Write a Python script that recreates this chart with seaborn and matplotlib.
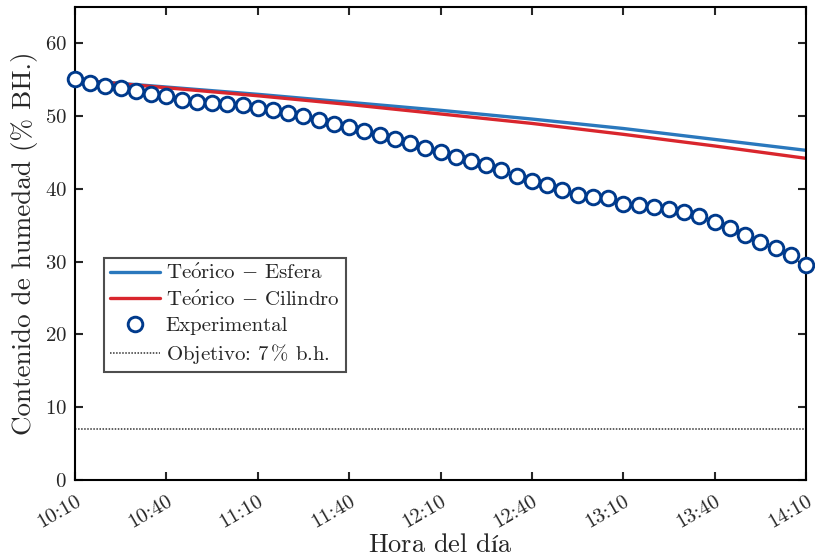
import matplotlib
import matplotlib.pyplot as plt
import seaborn as sns
import pandas as pd

matplotlib.use('Agg')

# minutos desde las 10:10, cada 5 min
t_exp = list(range(0, 241, 5))
h_exp = [55.1, 54.6, 54.2, 53.9, 53.5, 53.1, 52.7, 52.2, 51.9, 51.8,
         51.7, 51.5, 51.1, 50.9, 50.4, 50.0, 49.5, 48.9, 48.5, 47.9,
         47.4, 46.8, 46.3, 45.6, 45.1, 44.4, 43.8, 43.3, 42.6, 41.8,
         41.1, 40.5, 39.8, 39.1, 38.9, 38.8, 37.9, 37.8, 37.5, 37.2,
         36.8, 36.3, 35.4, 34.6, 33.7, 32.7, 31.9, 30.9, 29.5]

t_teo = [0, 30, 60, 90, 120, 150, 180, 210, 240]
h_esfera = [55.0, 54.0, 53.0, 51.9, 50.8, 49.6, 48.3, 46.8, 45.3]
h_cilindro = [55.0, 53.9, 52.8, 51.6, 50.3, 49.0, 47.5, 45.9, 44.2]

objetivo = 7
xtick_pos = [0, 30, 60, 90, 120, 150, 180, 210, 240]
xtick_lab = ["10:10", "10:40", "11:10", "11:40", "12:10",
             "12:40", "13:10", "13:40", "14:10"]

sns.set_style("ticks")
plt.rcParams['font.family'] = 'serif'
plt.rcParams['font.serif'] = ['cmr10']
plt.rcParams['mathtext.fontset'] = 'cm'
plt.rcParams['axes.formatter.use_mathtext'] = True
plt.rcParams['axes.unicode_minus'] = False

df_exp = pd.DataFrame({"t": t_exp, "h": h_exp})
df_teo = pd.DataFrame({"t": t_teo, "esfera": h_esfera, "cilindro": h_cilindro})

fig = plt.figure(figsize=(8.15, 5.6), dpi=100)
ax = fig.add_axes([0.092, 0.143, 0.897, 0.8445])

sns.lineplot(data=df_teo, x="t", y="esfera", ax=ax, color="#2a78bd", lw=2.4,
             label=r"Te$\mathrm{\acute{o}}$rico $-$ Esfera")
sns.lineplot(data=df_teo, x="t", y="cilindro", ax=ax, color="#d9262d", lw=2.4,
             label=r"Te$\mathrm{\acute{o}}$rico $-$ Cilindro")
ax.plot(df_exp["t"], df_exp["h"], ls="none", marker="o", ms=10.5,
        mfc="white", mec="#003a8c", mew=2.1, label="Experimental", zorder=5,
        clip_on=False)
ax.axhline(objetivo, color="#333333", ls=(0, (1, 1)), lw=1.1,
           label=r"Objetivo: $7\,\%$ b.h.")

ax.set_xlim(0, 240)
ax.set_ylim(0, 65)
ax.set_yticks([0, 10, 20, 30, 40, 50, 60])
ax.set_xticks(xtick_pos)
ax.set_xticklabels(xtick_lab, rotation=30, ha="right", rotation_mode="anchor")
ax.tick_params(direction="in", length=6, width=1.5, labelsize=15,
               top=True, right=True, pad=6)
ax.tick_params(axis="x", pad=9)
for s in ax.spines.values():
    s.set_linewidth(1.5)
    s.set_color("black")

ax.set_xlabel(r"Hora del d$\mathrm{í}$a", fontsize=19, labelpad=1)
ax.set_ylabel("Contenido de humedad (% BH.)", fontsize=19.5, labelpad=5)

leg = ax.legend(loc="lower left", bbox_to_anchor=(0.04, 0.228), fontsize=15,
                frameon=True, fancybox=False, edgecolor="#222222",
                handlelength=2.4, handletextpad=0.25, borderpad=0.3,
                labelspacing=0.33, borderaxespad=0)
leg.get_frame().set_linewidth(1.5)

plt.savefig("out.png", dpi=100)
plt.close()
